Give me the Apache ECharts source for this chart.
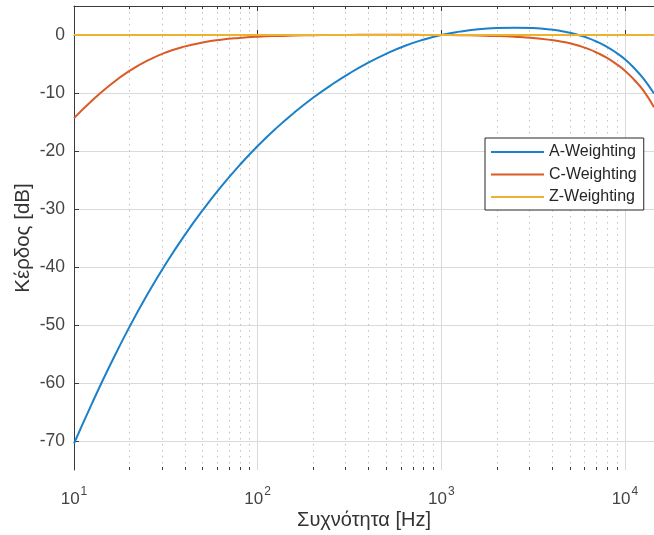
<!DOCTYPE html>
<html><head><meta charset="utf-8">
<script src="https://cdn.jsdelivr.net/npm/echarts@6/dist/echarts.min.js"></script>
<style>html,body{margin:0;padding:0;background:#fff}#c{width:654px;height:535px}</style>
</head><body><div id="c"></div>
<script>
// ---- data ----
const freqs   = [10,12.59,15.85,19.95,25.12,31.62,39.81,50.12,63.1,79.43,100,125.9,158.5,199.5,251.2,316.2,398.1,501.2,631,794.3,1000,1259,1585,1995,2512,3162,3981,4467,5012,5623,6310,7079,7943,8913,10000,11220,12590,14400];
const aWeight = [-70.43,-63.37,-56.69,-50.45,-44.71,-39.44,-34.63,-30.24,-26.20,-22.51,-19.14,-16.10,-13.36,-10.87,-8.63,-6.61,-4.80,-3.23,-1.89,-0.83,0.00,0.58,0.99,1.21,1.27,1.19,0.93,0.70,0.39,-0.03,-0.54,-1.20,-1.99,-3.00,-4.19,-5.70,-7.49,-10.10];
const cWeight = [-14.33,-11.25,-8.53,-6.24,-4.41,-3.01,-2.00,-1.30,-0.82,-0.51,-0.30,-0.17,-0.09,-0.03,0.00,0.02,0.03,0.03,0.03,0.02,0.00,-0.03,-0.09,-0.17,-0.31,-0.52,-0.87,-1.12,-1.42,-1.86,-2.40,-3.09,-3.90,-4.93,-6.15,-7.71,-9.55,-12.45];
const zFreqs  = [10,14400];
const zWeight = [0,0];
const seriesNames = ['A-Weighting','C-Weighting','Z-Weighting'];
const xMajorTicks = [10,100,1000,10000];
const xMinorTicks = [20,30,40,50,60,70,80,90,200,300,400,500,600,700,800,900,2000,3000,4000,5000,6000,7000,8000,9000];
const yTicks = [-70,-60,-50,-40,-30,-20,-10,0];
const xMin = 10, xMax = 14400, yMin = -75, yMax = 5;
const xTitle = 'Συχνότητα [Hz]';
const yTitle = 'Κέρδος [dB]';

const colors = ['#1a80c9','#da5b26','#eeb22e'];
const axisColor = '#3a3a3a';
const font = 'Liberation Sans, Arial, Helvetica, sans-serif';

const pairs = (xs, ys) => xs.map((x, i) => [x, ys[i]]);

const chart = echarts.init(document.getElementById('c'), null, {renderer: 'canvas'});
chart.setOption({
  animation: false,
  backgroundColor: '#fff',
  color: colors,
  grid: {left: 74, top: 6, right: 0, bottom: 64, containLabel: false},
  legend: {
    data: seriesNames,
    orient: 'vertical',
    left: 485, top: 138,
    icon: 'rect', itemWidth: 53, itemHeight: 2, itemGap: 6.5,
    padding: [6, 7, 5, 6],
    backgroundColor: '#fff', borderColor: '#262626', borderWidth: 1,
    textStyle: {fontFamily: font, fontSize: 16, color: '#262626', lineHeight: 16},
    selectedMode: false
  },
  xAxis: [{
    type: 'log', logBase: 10, min: xMin, max: xMax,
    name: xTitle, nameLocation: 'middle', nameGap: 40, nameMoveOverlap: false,
    nameTextStyle: {fontFamily: font, fontSize: 20, color: '#333'},
    axisLine: {show: true, lineStyle: {color: axisColor, width: 1}},
    axisTick: {show: true, inside: true, length: 5, customValues: xMajorTicks, lineStyle: {color: axisColor}},
    minorTick: {show: false},
    axisLabel: {
      customValues: xMajorTicks, margin: 16, color: '#444',
      formatter: v => '{b|10}{s|' + Math.round(Math.log10(v)) + '}',
      rich: {
        b: {fontFamily: font, fontSize: 17, color: '#444', lineHeight: 22, verticalAlign: 'bottom'},
        s: {fontFamily: font, fontSize: 12, color: '#444', lineHeight: 12, verticalAlign: 'top', padding: [0, 0, 0, 1]}
      }
    },
    splitLine: {show: true, lineStyle: {color: '#dadada', width: 1}}
  }, {
    type: 'log', logBase: 10, min: xMin, max: xMax, position: 'top',
    axisLine: {show: true, lineStyle: {color: axisColor, width: 1}},
    axisTick: {show: true, inside: true, length: 5, customValues: xMajorTicks, lineStyle: {color: axisColor}},
    axisLabel: {show: false},
    splitLine: {show: false}
  }],
  yAxis: {
    type: 'value', min: yMin, max: yMax,
    name: yTitle, nameLocation: 'middle', nameGap: 40, nameRotate: 90, nameMoveOverlap: false,
    nameTextStyle: {fontFamily: font, fontSize: 20.5, color: '#333'},
    axisLine: {show: true, lineStyle: {color: axisColor, width: 1}},
    axisTick: {show: true, inside: true, length: 5, customValues: yTicks, lineStyle: {color: axisColor}},
    axisLabel: {customValues: yTicks, margin: 9, fontFamily: font, fontSize: 17.5, color: '#444'},
    splitLine: {show: true, lineStyle: {color: '#dadada', width: 1}}
  },
  series: [
    {
      type: 'custom', silent: true, z: 1, clip: true,
      data: xMinorTicks.map(f => [f, 0]),
      renderItem: (params, api) => {
        const f = api.value(0);
        const t = api.coord([f, yMax]);
        const b = api.coord([f, yMin]);
        const x = Math.round(t[0]) + 0.5;
        return {type: 'group', children: [
          {type: 'line', shape: {x1: x, y1: t[1], x2: x, y2: b[1]}, style: {stroke: '#c2c2c2', lineWidth: 1, lineDash: [1.5, 4.5]}},
          {type: 'line', shape: {x1: x, y1: b[1], x2: x, y2: b[1] - 3}, style: {stroke: axisColor, lineWidth: 1}},
          {type: 'line', shape: {x1: x, y1: t[1], x2: x, y2: t[1] + 3}, style: {stroke: axisColor, lineWidth: 1}}
        ]};
      }
    },
    {name: seriesNames[0], type: 'line', z: 3, showSymbol: false, smooth: 0.5, data: pairs(freqs, aWeight), lineStyle: {width: 2, color: colors[0]}, itemStyle: {color: colors[0]}},
    {name: seriesNames[1], type: 'line', z: 3, showSymbol: false, smooth: 0.5, data: pairs(freqs, cWeight), lineStyle: {width: 2, color: colors[1]}, itemStyle: {color: colors[1]}},
    {name: seriesNames[2], type: 'line', z: 3, showSymbol: false, data: pairs(zFreqs, zWeight), lineStyle: {width: 2, color: colors[2]}, itemStyle: {color: colors[2]}}
  ]
});
</script>
</body></html>
